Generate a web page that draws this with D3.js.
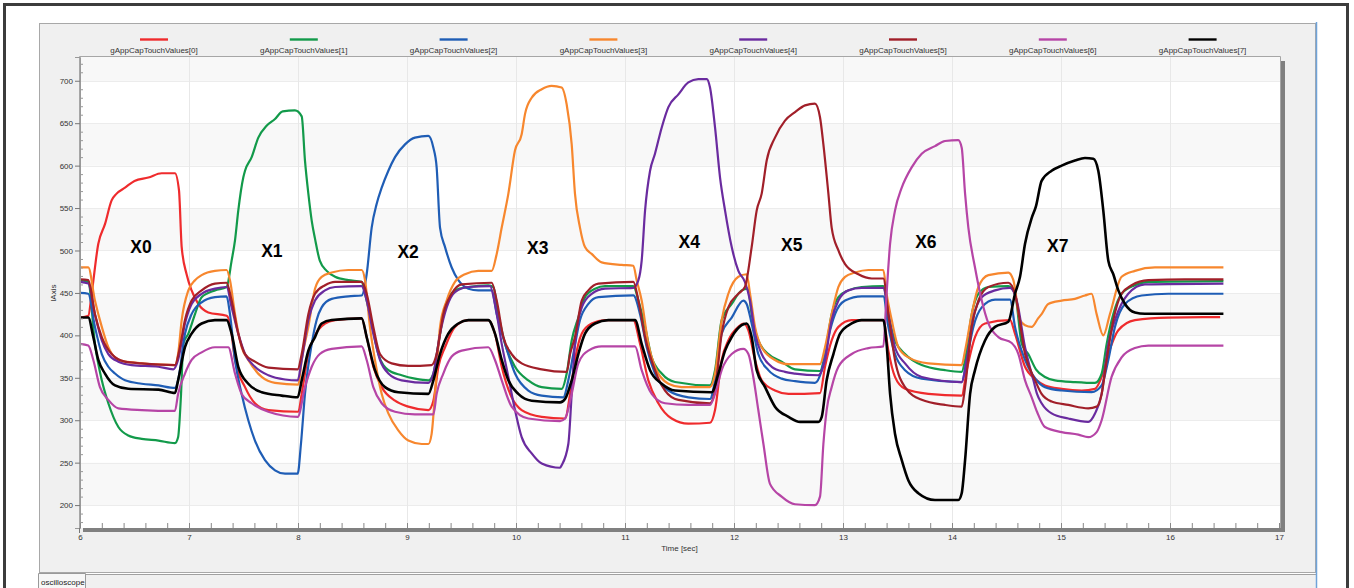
<!DOCTYPE html>
<html>
<head>
<meta charset="utf-8">
<script src="https://cdn.jsdelivr.net/npm/d3@7"></script>
<style>
  body { margin: 0; background: #fff; }
  text { font-family: "Liberation Sans", Arial, sans-serif; }
</style>
</head>
<body>
<div id="viz"></div>
<script>
// series names / colours
const seriesNames = d3.range(8).map((i) => `gAppCapTouchValues[${i}]`);
const seriesColors = ["#ef2b2d", "#129a4a", "#1f5db5", "#f7872e", "#6a2b9f", "#a11f29", "#b645a6", "#000000"];

// [time (sec), value]
const ch0 = [[6.0,421],[6.076,423],[6.107,449],[6.168,508],[6.229,531],[6.29,559],[6.336,567],[6.413,574],[6.5,582],[6.627,586],[6.749,591],[6.871,591],[6.908,571],[6.933,504],[6.978,472],[7.024,453],[7.085,437],[7.177,427],[7.345,423],[7.376,414],[7.422,371],[7.514,339],[7.605,320],[7.728,312],[8.003,310],[8.034,331],[8.095,378],[8.156,400],[8.248,414],[8.34,418],[8.584,420],[8.63,398],[8.691,363],[8.768,339],[8.89,323],[9.012,316],[9.196,312],[9.242,323],[9.288,363],[9.349,386],[9.44,410],[9.563,418],[9.746,418],[9.807,402],[9.869,363],[9.96,327],[10.052,312],[10.236,304],[10.45,302],[10.496,331],[10.541,371],[10.603,402],[10.694,414],[10.817,418],[11.077,418],[11.138,390],[11.214,347],[11.306,320],[11.428,302],[11.581,296],[11.78,297],[11.826,312],[11.887,371],[11.948,394],[12.04,410],[12.086,414],[12.132,406],[12.193,371],[12.254,347],[12.376,335],[12.5,331],[12.789,332],[12.835,363],[12.896,394],[12.958,410],[13.08,418],[13.37,418],[13.416,382],[13.477,351],[13.569,337],[13.783,331],[14.089,329],[14.135,359],[14.211,398],[14.303,414],[14.533,418],[14.578,402],[14.67,363],[14.77,348],[14.853,341],[15.006,337],[15.19,335],[15.312,337],[15.373,351],[15.434,378],[15.526,406],[15.678,418],[15.984,421],[16.46,421.5]];
const ch1 = [[6.0,465],[6.076,463],[6.137,390],[6.2,347],[6.26,320],[6.352,292],[6.443,282],[6.566,278],[6.72,276],[6.871,273],[6.9,280],[6.927,331],[6.948,390],[6.994,402],[7.055,425],[7.116,445],[7.238,453],[7.345,457],[7.391,488],[7.422,512],[7.452,547],[7.498,586],[7.514,594],[7.575,610],[7.636,633],[7.712,647],[7.789,655],[7.86,664],[7.972,665],[8.034,658],[8.064,606],[8.095,567],[8.126,535],[8.156,514],[8.2,488],[8.263,476],[8.34,469],[8.462,465],[8.584,463],[8.615,449],[8.676,414],[8.737,378],[8.829,359],[8.951,353],[9.073,349],[9.196,347],[9.242,355],[9.288,390],[9.349,433],[9.44,453],[9.563,457],[9.746,459],[9.792,457],[9.838,425],[9.9,390],[9.991,363],[10.113,347],[10.236,339],[10.419,337],[10.465,355],[10.511,394],[10.572,421],[10.633,445],[10.725,455],[10.817,458],[11.077,458],[11.123,441],[11.184,410],[11.245,374],[11.337,355],[11.459,345],[11.78,341],[11.826,359],[11.887,418],[11.979,437],[12.07,453],[12.126,455],[12.162,425],[12.223,394],[12.315,378],[12.437,369],[12.56,360],[12.789,358],[12.835,378],[12.896,425],[12.958,445],[13.049,453],[13.172,457],[13.37,458],[13.416,425],[13.477,394],[13.569,378],[13.722,365],[13.936,359],[14.089,357],[14.12,371],[14.181,425],[14.242,449],[14.334,457],[14.517,458],[14.578,449],[14.64,390],[14.7,378],[14.77,360],[14.853,351],[14.944,347],[15.128,345],[15.311,344],[15.373,355],[15.419,390],[15.48,425],[15.556,449],[15.678,459],[15.801,463],[16.49,464]];
const ch2 = [[6.0,450],[6.076,449],[6.137,410],[6.2,378],[6.26,363],[6.321,355],[6.413,347],[6.566,343],[6.72,341],[6.871,338],[6.9,347],[6.963,402],[7.024,425],[7.116,439],[7.238,445],[7.345,446],[7.376,425],[7.422,371],[7.483,331],[7.544,300],[7.605,276],[7.697,253],[7.789,241],[7.881,237],[7.997,237],[8.027,272],[8.064,331],[8.126,390],[8.171,418],[8.217,433],[8.309,443],[8.462,446],[8.584,447],[8.63,472],[8.676,527],[8.722,555],[8.768,574],[8.829,594],[8.89,610],[8.982,625],[9.073,633],[9.196,635],[9.242,621],[9.272,598],[9.303,527],[9.349,504],[9.41,480],[9.471,465],[9.563,455],[9.654,453],[9.777,453],[9.823,425],[9.9,390],[9.991,355],[10.113,335],[10.236,329],[10.434,327],[10.48,347],[10.526,378],[10.587,418],[10.664,437],[10.756,445],[11.077,447],[11.138,425],[11.199,386],[11.275,355],[11.398,335],[11.581,327],[11.78,325],[11.826,347],[11.887,402],[11.979,421],[12.086,441],[12.116,437],[12.162,414],[12.223,378],[12.315,359],[12.437,349],[12.56,346],[12.743,344],[12.805,359],[12.866,398],[12.927,425],[13.019,441],[13.172,446],[13.37,446],[13.416,410],[13.477,378],[13.569,359],[13.722,349],[14.089,345],[14.135,371],[14.196,410],[14.273,433],[14.395,442],[14.533,442],[14.578,410],[14.67,371],[14.77,348],[14.853,339],[15.006,335],[15.281,333],[15.373,341],[15.434,371],[15.495,410],[15.587,437],[15.74,447],[15.984,449],[16.49,449]];
const ch3 = [[6.0,480],[6.076,480],[6.137,441],[6.2,410],[6.26,386],[6.321,374],[6.41,369],[6.871,365],[6.9,378],[6.933,418],[6.994,453],[7.055,465],[7.116,471],[7.238,476],[7.345,477],[7.376,465],[7.422,425],[7.483,386],[7.544,371],[7.667,351],[7.789,344],[8.003,342],[8.034,371],[8.095,410],[8.156,455],[8.217,469],[8.309,474],[8.462,477],[8.584,477],[8.615,465],[8.66,410],[8.706,371],[8.768,331],[8.829,308],[8.92,288],[9.012,276],[9.135,272],[9.196,272],[9.226,284],[9.257,331],[9.303,410],[9.364,441],[9.44,463],[9.532,472],[9.654,476],[9.777,476],[9.823,496],[9.869,527],[9.93,567],[9.991,618],[10.052,637],[10.083,661],[10.144,680],[10.236,690],[10.327,694],[10.419,692],[10.465,672],[10.511,625],[10.541,567],[10.587,527],[10.633,504],[10.694,496],[10.786,486],[10.97,483],[11.077,482],[11.107,465],[11.153,441],[11.214,390],[11.275,363],[11.398,343],[11.52,339],[11.78,339],[11.826,355],[11.887,418],[11.948,449],[12.04,469],[12.116,472],[12.147,449],[12.193,410],[12.254,386],[12.376,371],[12.5,366],[12.789,366],[12.835,386],[12.896,425],[12.958,457],[13.019,469],[13.11,474],[13.233,477],[13.37,477],[13.4,449],[13.447,418],[13.508,386],[13.6,374],[13.783,367],[14.089,365],[14.12,382],[14.181,425],[14.242,457],[14.334,471],[14.517,474],[14.563,465],[14.624,418],[14.67,412],[14.731,410],[14.79,420],[14.822,425],[14.883,437],[15.006,441],[15.128,443],[15.22,447],[15.281,449],[15.327,425],[15.388,400],[15.449,425],[15.556,469],[15.678,476],[15.862,480],[16.49,480]];
const ch4 = [[6.0,463],[6.076,461],[6.137,425],[6.2,394],[6.26,378],[6.352,369],[6.474,365],[6.72,363],[6.856,360],[6.9,371],[6.963,414],[7.024,437],[7.116,449],[7.238,455],[7.345,457],[7.391,433],[7.452,402],[7.514,378],[7.605,363],[7.728,353],[7.881,348],[7.997,347],[8.034,371],[8.095,418],[8.156,441],[8.248,453],[8.34,457],[8.584,458],[8.63,441],[8.691,402],[8.752,371],[8.829,355],[8.951,347],[9.196,344],[9.242,355],[9.303,402],[9.364,433],[9.44,451],[9.563,457],[9.762,458],[9.807,437],[9.869,390],[9.93,351],[9.991,312],[10.052,280],[10.144,261],[10.236,249],[10.404,244],[10.419,247],[10.48,272],[10.511,331],[10.541,390],[10.603,433],[10.694,449],[10.817,455],[11.077,456],[11.123,465],[11.153,488],[11.184,547],[11.23,594],[11.275,614],[11.337,645],[11.398,669],[11.49,684],[11.581,698],[11.673,702],[11.75,702],[11.78,692],[11.826,645],[11.872,586],[11.918,547],[11.979,504],[12.04,476],[12.1,463],[12.147,441],[12.193,402],[12.254,378],[12.346,363],[12.468,357],[12.56,355],[12.774,353],[12.835,371],[12.896,418],[12.958,441],[13.049,453],[13.172,456],[13.37,456],[13.416,425],[13.477,386],[13.569,367],[13.722,351],[14.089,345],[14.135,371],[14.196,421],[14.273,445],[14.395,453],[14.533,456],[14.594,441],[14.67,386],[14.747,347],[14.78,331],[14.822,320],[14.914,308],[15.067,302],[15.25,298],[15.312,308],[15.373,331],[15.434,390],[15.495,418],[15.617,449],[15.77,460],[16.49,461]];
const ch5 = [[6.0,466],[6.076,465],[6.137,425],[6.2,398],[6.29,378],[6.413,369],[6.566,367],[6.871,365],[6.917,386],[6.963,418],[7.024,441],[7.116,453],[7.238,461],[7.345,462],[7.391,441],[7.452,402],[7.514,378],[7.605,369],[7.728,362],[7.997,360],[8.034,378],[8.095,425],[8.156,449],[8.248,459],[8.34,463],[8.584,463],[8.63,449],[8.691,410],[8.752,378],[8.859,367],[9.012,364],[9.226,365],[9.272,378],[9.333,425],[9.41,449],[9.502,460],[9.777,462],[9.823,441],[9.884,398],[9.96,378],[10.052,367],[10.236,360],[10.465,357],[10.496,378],[10.541,398],[10.603,441],[10.664,453],[10.756,461],[11.077,463],[11.123,441],[11.184,398],[11.275,359],[11.367,335],[11.49,324],[11.78,320],[11.826,335],[11.887,402],[11.948,433],[12.04,449],[12.1,457],[12.162,504],[12.208,547],[12.254,567],[12.3,606],[12.376,633],[12.468,653],[12.56,663],[12.652,671],[12.743,673],[12.789,657],[12.82,625],[12.866,567],[12.896,527],[12.958,500],[13.019,484],[13.141,472],[13.264,467],[13.37,467],[13.416,425],[13.477,371],[13.569,339],[13.722,324],[13.936,318],[14.089,316],[14.12,339],[14.181,410],[14.242,441],[14.334,457],[14.517,462],[14.578,449],[14.67,378],[14.762,347],[14.822,331],[14.914,322],[15.067,318],[15.25,314],[15.327,316],[15.373,331],[15.419,371],[15.48,418],[15.556,449],[15.648,459],[15.801,465],[16.137,466],[16.49,466]];
const ch6 = [[6.0,390],[6.076,388],[6.122,371],[6.183,339],[6.26,324],[6.352,314],[6.566,312],[6.871,311],[6.9,331],[6.963,355],[7.024,371],[7.116,380],[7.238,386],[7.36,386],[7.422,355],[7.483,331],[7.575,320],[7.728,310],[7.997,304],[8.064,339],[8.126,363],[8.2,378],[8.309,384],[8.584,387],[8.63,371],[8.691,339],[8.768,320],[8.89,310],[9.073,307],[9.242,307],[9.272,331],[9.333,355],[9.41,375],[9.502,382],[9.746,386],[9.807,371],[9.869,347],[9.96,316],[10.113,302],[10.404,299],[10.45,302],[10.511,331],[10.572,367],[10.664,382],[10.786,387],[11.092,387],[11.153,359],[11.245,331],[11.367,320],[11.581,318],[11.78,318],[11.826,331],[11.887,359],[11.979,378],[12.086,384],[12.132,378],[12.177,351],[12.223,312],[12.27,272],[12.33,225],[12.437,210],[12.56,201],[12.743,200],[12.789,210],[12.82,272],[12.85,312],[12.896,339],[12.958,363],[13.08,378],[13.233,385],[13.37,387],[13.4,449],[13.432,508],[13.477,547],[13.539,574],[13.63,598],[13.722,614],[13.844,623],[13.936,629],[14.058,630],[14.089,621],[14.12,567],[14.15,527],[14.211,480],[14.273,441],[14.334,414],[14.425,398],[14.548,391],[14.609,378],[14.67,347],[14.731,327],[14.78,310],[14.853,292],[15.006,286],[15.159,283],[15.25,280],[15.327,286],[15.373,300],[15.464,351],[15.556,374],[15.678,385],[15.801,388],[16.49,388]];
const ch7 = [[6.0,421],[6.076,421],[6.122,398],[6.168,371],[6.229,355],[6.321,341],[6.443,337],[6.72,336],[6.871,332],[6.9,347],[6.963,386],[7.024,402],[7.116,414],[7.238,418],[7.345,418],[7.391,402],[7.452,363],[7.544,343],[7.667,333],[7.85,329],[7.997,327],[8.034,347],[8.095,382],[8.156,398],[8.217,414],[8.309,418],[8.584,420],[8.63,398],[8.706,359],[8.798,339],[8.92,333],[9.196,331],[9.242,347],[9.303,378],[9.379,402],[9.471,414],[9.563,418],[9.746,418],[9.807,402],[9.869,371],[9.93,347],[10.021,331],[10.144,323],[10.404,321],[10.45,325],[10.511,347],[10.572,378],[10.633,402],[10.725,414],[10.847,418],[11.092,418],[11.153,390],[11.23,359],[11.337,343],[11.459,335],[11.795,333],[11.857,355],[11.918,382],[11.979,398],[12.07,412],[12.116,414],[12.162,398],[12.208,359],[12.285,339],[12.376,316],[12.5,304],[12.606,298],[12.774,298],[12.805,304],[12.85,347],[12.912,378],[12.973,402],[13.08,414],[13.172,418],[13.37,418],[13.4,390],[13.432,331],[13.477,284],[13.539,253],[13.6,229],[13.691,214],[13.844,206],[14.058,206],[14.089,214],[14.12,253],[14.166,331],[14.211,359],[14.303,394],[14.395,410],[14.517,416],[14.578,449],[14.624,469],[14.67,508],[14.733,539],[14.77,552],[14.822,582],[14.914,594],[15.006,600],[15.128,606],[15.22,609],[15.296,608],[15.342,594],[15.388,547],[15.434,488],[15.48,472],[15.526,453],[15.587,437],[15.678,427],[15.77,425.5],[16.49,425.5]];
const allSeries = [ch0, ch1, ch2, ch3, ch4, ch5, ch6, ch7];

// ticks
const xTicks = d3.range(6, 18);
const yTicks = d3.range(200, 701, 50);

// touch annotations: label, time, value
const touchLabels = ["X0", "X1", "X2", "X3", "X4", "X5", "X6", "X7"];
const touchTimes = [6.56, 7.76, 9.01, 10.2, 11.59, 12.53, 13.76, 14.97];
const touchValues = [504, 499, 498, 503, 510, 507, 510, 505];

const W = 1354, H = 588;
const plot = { left: 80, top: 57, right: 1280, bottom: 528 };

const svg = d3.select("#viz").append("svg").attr("width", W).attr("height", H);

// outer window frame
svg.append("rect").attr("x", 4.5).attr("y", 4.5).attr("width", 1343).attr("height", 620)
	.attr("fill", "#fff").attr("stroke", "#3c3c3c").attr("stroke-width", 3);

// grey control panel
svg.append("rect").attr("x", 39.5).attr("y", 23.5).attr("width", 1276).attr("height", 549)
	.attr("fill", "#f0f0f0").attr("stroke", "#a8a8a8");
svg.append("rect").attr("x", 39).attr("y", 574).attr("width", 1277).attr("height", 14).attr("fill", "#f0f0f0");
svg.append("line").attr("x1", 39).attr("x2", 1316).attr("y1", 574.5).attr("y2", 574.5).attr("stroke", "#a0a0a0");
svg.append("line").attr("x1", 1316.5).attr("x2", 1316.5).attr("y1", 22).attr("y2", 588).attr("stroke", "#6fa3d9").attr("stroke-width", 1.5);

// tab
svg.append("path").attr("d", "M38.5,588 V573.5 H85.5 V588").attr("fill", "#f7f7f7").attr("stroke", "#9a9a9a");
svg.append("text").attr("x", 41).attr("y", 585).attr("font-size", 8).attr("fill", "#222").text("oscilloscope");

// scales
const x = d3.scaleLinear().domain([6, 17]).range([plot.left, 1279]);
const y = d3.scaleLinear().domain([173, 728]).range([plot.bottom, plot.top]);

// plot background + bands
svg.append("rect").attr("x", plot.left).attr("y", plot.top)
	.attr("width", plot.right - plot.left).attr("height", plot.bottom - plot.top).attr("fill", "#fff");
const bandEdges = [200].concat(yTicks).concat([728]);
const bands = [];
for (let v = 200; v < 728; v += 100) bands.push([v, Math.min(v + 50, 728)]);
bands.push([700, 728]);
svg.append("g").selectAll("rect").data(bands.filter((b) => b[0] !== 600 || true)).join("rect")
	.attr("x", plot.left).attr("width", plot.right - plot.left)
	.attr("y", (d) => y(d[1])).attr("height", (d) => y(d[0]) - y(d[1]))
	.attr("fill", "#f8f8f8");

// grid
svg.append("g").selectAll("line").data(yTicks).join("line")
	.attr("x1", plot.left).attr("x2", plot.right)
	.attr("y1", (d) => Math.round(y(d)) + 0.5).attr("y2", (d) => Math.round(y(d)) + 0.5)
	.attr("stroke", "#ececec");
svg.append("g").selectAll("line").data(xTicks.slice(1, -1)).join("line")
	.attr("y1", plot.top).attr("y2", plot.bottom)
	.attr("x1", (d) => Math.round(x(d)) + 0.5).attr("x2", (d) => Math.round(x(d)) + 0.5)
	.attr("stroke", "#e8e8e8");

// shadow and border
svg.append("rect").attr("x", 83).attr("y", plot.bottom).attr("width", 1202).attr("height", 4).attr("fill", "#808080");
svg.append("rect").attr("x", plot.right + 1).attr("y", 61).attr("width", 4).attr("height", 471).attr("fill", "#808080");
svg.append("path").attr("d", `M${plot.left - 0.5},${plot.bottom} V${plot.top - 0.5} H${plot.right + 0.5} V${plot.bottom}`)
	.attr("fill", "none").attr("stroke", "#a6a6a6");

// series lines
svg.append("clipPath").attr("id", "clip").append("rect")
	.attr("x", plot.left).attr("y", plot.top).attr("width", plot.right - plot.left).attr("height", plot.bottom - plot.top);
const line = d3.line().x((d) => x(d[0])).y((d) => y(d[1])).curve(d3.curveMonotoneX);
svg.append("g").attr("clip-path", "url(#clip)").selectAll("path").data(allSeries).join("path")
	.attr("d", line).attr("fill", "none")
	.attr("stroke", (d, i) => seriesColors[i])
	.attr("stroke-width", (d, i) => (i === 7 ? 2.6 : 2.2))
	.attr("stroke-linejoin", "round");

// y axis
const yAxis = svg.append("g").attr("transform", `translate(${plot.left},0)`)
	.call(d3.axisLeft(y).tickValues(yTicks).tickSize(5).tickPadding(2));
yAxis.select(".domain").attr("stroke", "#999");
yAxis.selectAll(".tick line").attr("stroke", "#777");
yAxis.selectAll("text").attr("font-size", 8).attr("fill", "#333").attr("font-family", "Liberation Sans, Arial, sans-serif");
const yMinor = svg.append("g").attr("transform", `translate(${plot.left},0)`)
	.call(d3.axisRight(y).tickValues(d3.range(180, 728, 10).filter((v) => v % 50 !== 0)).tickSize(3).tickFormat(""));
yMinor.select(".domain").remove();
yMinor.selectAll(".tick line").attr("stroke", "#999");

// x axis
const xMinor = svg.append("g").attr("transform", `translate(0,${plot.bottom})`)
	.call(d3.axisTop(x).tickValues(d3.range(6, 17.01, 0.2)).tickSize(5).tickFormat(""));
xMinor.select(".domain").remove();
xMinor.selectAll(".tick line").attr("stroke", "#888");
const xAxis = svg.append("g").attr("transform", `translate(0,${plot.bottom + 4})`)
	.call(d3.axisBottom(x).tickValues(xTicks).tickSize(0).tickPadding(2));
xAxis.select(".domain").remove();
xAxis.selectAll("text").attr("font-size", 8).attr("fill", "#333").attr("font-family", "Liberation Sans, Arial, sans-serif");
svg.append("line").attr("x1", plot.left - 0.5).attr("x2", plot.left - 0.5).attr("y1", plot.bottom).attr("y2", plot.bottom + 5).attr("stroke", "#777");

// axis titles
svg.append("text").attr("x", (plot.left + 1279) / 2).attr("y", 551).attr("text-anchor", "middle")
	.attr("font-size", 8).attr("fill", "#333").text("Time [sec]");
svg.append("text").attr("transform", "translate(56,293) rotate(-90)").attr("text-anchor", "middle")
	.attr("font-size", 8).attr("fill", "#333").text("lAxis");

// legend
const legend = svg.append("g").selectAll("g").data(seriesNames).join("g")
	.attr("transform", (d, i) => `translate(${154 + i * 149.8},0)`);
legend.append("line").attr("x1", -14).attr("x2", 14).attr("y1", 39.5).attr("y2", 39.5)
	.attr("stroke", (d, i) => seriesColors[i]).attr("stroke-width", 2.4);
legend.append("text").attr("y", 53).attr("text-anchor", "middle").attr("font-size", 8).attr("fill", "#333").text((d) => d);

// touch labels
svg.append("g").selectAll("text").data(touchLabels).join("text")
	.attr("x", (d, i) => x(touchTimes[i])).attr("y", (d, i) => y(touchValues[i]))
	.attr("text-anchor", "middle").attr("dominant-baseline", "central")
	.attr("font-family", "Lato, 'Open Sans', sans-serif").attr("font-weight", "bold").attr("font-size", 17.5)
	.attr("fill", "#000").text((d) => d);
</script>
</body>
</html>
